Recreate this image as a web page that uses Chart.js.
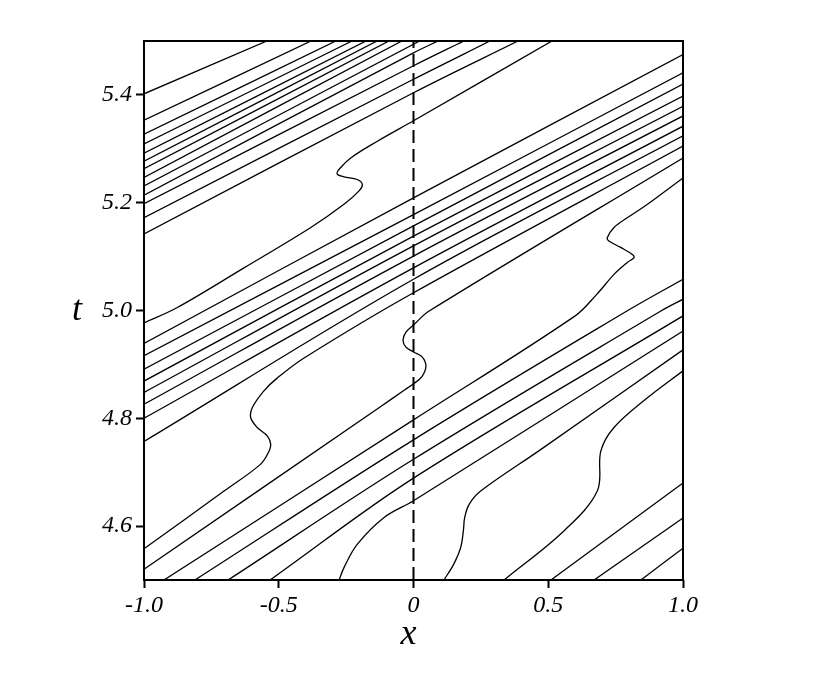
<!DOCTYPE html>
<html>
<head>
<meta charset="utf-8">
<script src="https://cdn.jsdelivr.net/npm/chart.js@4.4.1/dist/chart.umd.min.js"></script>
<style>
  html, body { margin: 0; padding: 0; background: #fff; }
  canvas { display: block; }
</style>
</head>
<body>
<canvas id="chart" width="830" height="674"></canvas>
<script>
// axis ticks
const xTicks = [-1, -0.5, 0, 0.5, 1];
const xTickLabels = ['-1.0', '-0.5', '0', '0.5', '1.0'];
const tTicks = [4.6, 4.8, 5.0, 5.2, 5.4];
const tTickLabels = ['4.6', '4.8', '5.0', '5.2', '5.4'];

// contour lines, each one a list of [x, t] points
const upperBand = [
  [[-1, 5.402], [-0.544, 5.5]],
  [[-1, 5.353], [-0.380, 5.5]],
  [[-1, 5.327], [-0.288, 5.5]],
  [[-1, 5.309], [-0.228, 5.5]],
  [[-1, 5.292], [-0.176, 5.5]],
  [[-1, 5.277], [-0.135, 5.5]],
  [[-1, 5.263], [-0.091, 5.5]],
  [[-1, 5.247], [-0.043, 5.5]],
  [[-1, 5.231], [0.023, 5.5]],
  [[-1, 5.214], [0, 5.478], [0.091, 5.5]],
  [[-1, 5.198], [0, 5.454], [0.187, 5.5]],
  [[-1, 5.172], [0, 5.429], [0.284, 5.5]],
  [[-1, 5.142], [0, 5.404], [0.388, 5.5]]
];

const upperWiggle = [
  [-1, 4.977], [-0.878, 5.005], [-0.629, 5.079], [-0.381, 5.154], [-0.258, 5.197],
  [-0.202, 5.222], [-0.190, 5.234], [-0.209, 5.243], [-0.258, 5.248], [-0.283, 5.253],
  [-0.276, 5.262], [-0.233, 5.283], [-0.134, 5.314], [0, 5.352], [0.514, 5.5]
];

const middleBand = [
  [[-1, 4.939], [0, 5.209], [1, 5.475]],
  [[-1, 4.916], [0, 5.178], [1, 5.441]],
  [[-1, 4.891], [0, 5.157], [1, 5.420]],
  [[-1, 4.869], [0, 5.138], [1, 5.398]],
  [[-1, 4.848], [0, 5.120], [1, 5.379]],
  [[-1, 4.826], [0, 5.101], [1, 5.361]],
  [[-1, 4.800], [0, 5.079], [1, 5.342]],
  [[-1, 4.757], [0, 5.058], [1, 5.324]]
];

const leftWiggle = [
  [-1, 4.558], [-0.703, 4.665], [-0.567, 4.715], [-0.536, 4.739], [-0.530, 4.752],
  [-0.542, 4.767], [-0.580, 4.783], [-0.604, 4.801], [-0.598, 4.820], [-0.555, 4.851],
  [-0.505, 4.875], [-0.406, 4.912], [0, 5.033], [1, 5.305]
];

const centreWiggle = [
  [-1, 4.520], [-0.124, 4.821], [-0.032, 4.853], [0, 4.864], [0.032, 4.878],
  [0.046, 4.897], [0.032, 4.914], [0, 4.923], [-0.028, 4.932], [-0.039, 4.945],
  [-0.028, 4.960], [0, 4.973], [0.058, 4.999], [1, 5.283]
];

const rightWiggle = [
  [-0.926, 4.5], [0, 4.797], [0.600, 4.990], [0.680, 5.030], [0.744, 5.067],
  [0.793, 5.089], [0.818, 5.098], [0.812, 5.104], [0.769, 5.117], [0.725, 5.129],
  [0.719, 5.135], [0.744, 5.154], [0.793, 5.172], [0.868, 5.197], [1, 5.246]
];

const lowerBand = [
  [[-0.811, 4.5], [0, 4.760], [0.792, 4.999], [1, 5.058]],
  [[-0.688, 4.5], [0, 4.724], [0.918, 4.999], [1, 5.021]],
  [[-0.532, 4.5], [0, 4.689], [1, 4.990]],
  [[-0.276, 4.5], [-0.258, 4.523], [-0.209, 4.566], [-0.109, 4.616], [0, 4.647], [1, 4.962]]
];

const bottomWiggles = [
  [[0.113, 4.5], [0.150, 4.530], [0.175, 4.560], [0.185, 4.591], [0.190, 4.616],
   [0.206, 4.640], [0.249, 4.665], [0.469, 4.741], [1, 4.927]],
  [[0.336, 4.5], [0.558, 4.591], [0.682, 4.665], [0.695, 4.739], [0.744, 4.783],
   [0.868, 4.838], [1, 4.888]]
];

const cornerLines = [
  [[0.510, 4.5], [1, 4.680]],
  [[0.670, 4.5], [1, 4.615]],
  [[0.844, 4.5], [1, 4.559]]
];

const zeroLine = [[0, 4.5], [0, 5.5]];

const allContours = [].concat(
  upperBand, [upperWiggle], middleBand, [leftWiggle], [centreWiggle],
  [rightWiggle], lowerBand, bottomWiggles, cornerLines
);

const datasets = allContours.map(line => ({
  data: line.map(p => ({ x: p[0], y: p[1] })),
  showLine: true,
  borderColor: '#000',
  borderWidth: 1.3,
  pointRadius: 0,
  tension: 0.35,
  fill: false
}));

datasets.push({
  data: zeroLine.map(p => ({ x: p[0], y: p[1] })),
  showLine: true,
  borderColor: '#000',
  borderWidth: 2,
  borderDash: [13, 6],
  pointRadius: 0,
  fill: false
});

const tickFont = { family: 'Liberation Serif', size: 24, style: 'italic' };

// frame round the plot and the two axis names
const framePlugin = {
  id: 'frame',
  afterDraw(chart) {
    const { ctx, chartArea: a } = chart;
    ctx.save();
    ctx.strokeStyle = '#000';
    ctx.lineWidth = 2;
    ctx.strokeRect(a.left, a.top, a.right - a.left, a.bottom - a.top);
    ctx.fillStyle = '#000';
    ctx.font = 'italic 36px "Liberation Serif"';
    ctx.textAlign = 'center';
    ctx.textBaseline = 'middle';
    ctx.fillText('t', a.left - 67, (a.top + a.bottom) / 2);
    ctx.fillText('x', (a.left + a.right) / 2 - 5, a.bottom + 55);
    ctx.restore();
  }
};

new Chart(document.getElementById('chart'), {
  type: 'scatter',
  data: { datasets },
  plugins: [framePlugin],
  options: {
    responsive: false,
    animation: false,
    devicePixelRatio: 1,
    layout: { padding: { left: 0, top: 41, right: 147, bottom: 0 } },
    plugins: { legend: { display: false }, tooltip: { enabled: false } },
    scales: {
      x: {
        type: 'linear',
        min: -1,
        max: 1,
        afterBuildTicks: s => { s.ticks = xTicks.map(v => ({ value: v })); },
        afterFit: s => { s.height = 94; },
        border: { display: false },
        grid: { drawOnChartArea: false, drawTicks: true, tickLength: 8, tickColor: '#000', tickWidth: 2 },
        ticks: {
          autoSkip: false, maxRotation: 0, padding: 3, color: '#000', font: tickFont,
          callback: (v, i) => xTickLabels[i]
        }
      },
      y: {
        type: 'linear',
        min: 4.5,
        max: 5.5,
        afterBuildTicks: s => { s.ticks = tTicks.map(v => ({ value: v })); },
        afterFit: s => { s.width = 144; },
        border: { display: false },
        grid: { drawOnChartArea: false, drawTicks: true, tickLength: 8, tickColor: '#000', tickWidth: 2 },
        ticks: {
          autoSkip: false, padding: 4, color: '#000', font: tickFont,
          callback: (v, i) => tTickLabels[i]
        }
      }
    }
  }
});
</script>
</body>
</html>
